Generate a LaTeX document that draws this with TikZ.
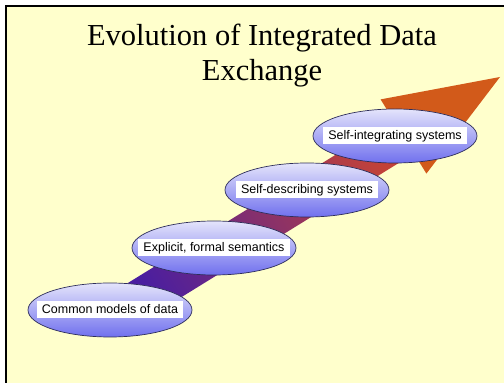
\documentclass[tikz,border=0pt]{standalone}
\usepackage{fontspec}
\setmainfont{Liberation Serif}
\setsansfont{Liberation Sans}
\usepackage{tikz}
\usetikzlibrary{shapes.geometric}
\definecolor{slide}{HTML}{FFFFCC}
\definecolor{frame}{HTML}{000000}
\definecolor{indigo}{HTML}{4A1EA0}
\definecolor{plum}{HTML}{8A3080}
\definecolor{brick}{HTML}{C24238}
\definecolor{flame}{HTML}{D25A1A}
\definecolor{lilac}{HTML}{E4E4FB}
\definecolor{periwinkle}{HTML}{7070EE}
\definecolor{rim}{HTML}{2E2E5A}
\tikzset{
  stage/.style={
    ellipse,
    draw=rim,
    line width=0.7pt,
    top color=lilac,
    bottom color=periwinkle,
    minimum width=164pt,
    minimum height=54pt,
    inner sep=0pt
  },
  tag/.style={
    font=\sffamily\fontsize{12.5}{14}\selectfont,
    text=black,
    fill=white,
    inner xsep=5pt,
    inner ysep=2.5pt,
    text height=9.5pt,
    text depth=2.5pt
  },
  heading/.style={
    font=\rmfamily\fontsize{30.5}{35}\selectfont,
    text=black,
    align=center,
    inner sep=0pt
  }
}

\begin{document}
\begin{tikzpicture}[x=1pt,y=1pt]
  \useasboundingbox (0,0) rectangle (504,383);
  \fill[white] (0,0) rectangle (504,383);
  \fill[slide] (6.2,0) rectangle (504,376.8);
  \draw[frame, line width=2.4pt] (6.2,0) -- (6.2,376.8) -- (504,376.8);

  \node[heading, anchor=north] (title) at (262,359.5) {Evolution of Integrated Data\\Exchange};

  % the rising arrow sits behind the four stages
  \coordinate (tail-up) at (111.2,89.7);
  \coordinate (tail-lo) at (132.2,55.5);
  \coordinate (neck-up) at (393,263.6);
  \coordinate (neck-lo) at (414,229.4);
  \coordinate (barb-up) at (380.6,283.6);
  \coordinate (barb-lo) at (426.4,209.4);
  \coordinate (tip) at (500,306);
  \shade[bottom color=indigo, middle color=plum, top color=brick, shading angle=-58.2]
    (tail-up) -- (neck-up) -- (neck-lo) -- (tail-lo) -- cycle;
  \fill[flame] (barb-up) -- (tip) -- (barb-lo) -- cycle;

  \node[stage] (common) at (110,73) {};
  \node[tag] (common-t) at (common) {Common models of data};

  \node[stage] (explicit) at (214,135) {};
  \node[tag] (explicit-t) at (explicit) {Explicit, formal semantics};

  \node[stage] (describing) at (307,193) {};
  \node[tag] (describing-t) at (describing) {Self-describing systems};

  \node[stage] (integrating) at (395,247) {};
  \node[tag] (integrating-t) at (integrating) {Self-integrating systems};
\end{tikzpicture}
\end{document}
